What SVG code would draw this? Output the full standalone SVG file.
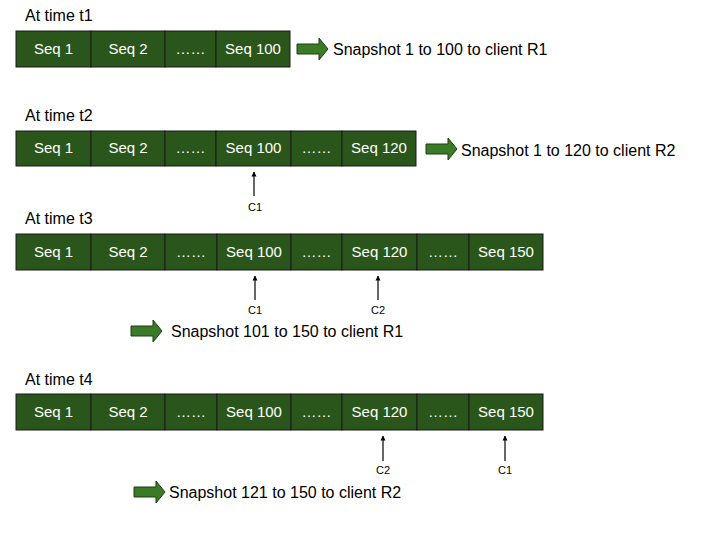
<svg xmlns="http://www.w3.org/2000/svg" width="720" height="540" viewBox="0 0 720 540">
<defs>
<style>
.cell{fill:#2b561b;stroke:#1a1a1a;stroke-width:1}
.ct{fill:#fff;font-family:"Liberation Sans",Arial,sans-serif;font-size:15px;text-anchor:middle}
.lbl{fill:#000;font-family:"Liberation Sans",Arial,sans-serif;font-size:16px}
.snap{fill:#000;font-family:"Liberation Sans",Arial,sans-serif;font-size:16px}
.ptr{fill:#000;font-family:"Liberation Sans",Arial,sans-serif;font-size:11px;text-anchor:middle}
.big{fill:#3b7a27;stroke:#1e3d12;stroke-width:1}
.pl{stroke:#000;stroke-width:1.2;fill:none}
</style>
<marker id="ah" viewBox="0 0 10 10" refX="9" refY="5" markerWidth="5" markerHeight="6" orient="auto" markerUnits="userSpaceOnUse">
<path d="M0,0 L10,5 L0,10 z" fill="#000"/>
</marker>
<polygon id="bigarrow" points="0,4 22,4 22,-2 31,9 22,20 22,14 0,14"/>
</defs>
<rect width="720" height="540" fill="#fff"/>

<text class="lbl" x="25" y="21">At time t1</text>
<text class="lbl" x="25" y="121">At time t2</text>
<text class="lbl" x="25" y="224">At time t3</text>
<text class="lbl" x="25" y="385">At time t4</text>

<g id="row1">
<rect class="cell" x="16" y="31" width="75" height="36"/>
<rect class="cell" x="91" y="31" width="74" height="36"/>
<rect class="cell" x="165" y="31" width="51" height="36"/>
<rect class="cell" x="216" y="31" width="74" height="36"/>
<text class="ct" x="53.5" y="54">Seq 1</text>
<text class="ct" x="128" y="54">Seq 2</text>
<text class="ct" x="190.5" y="54">……</text>
<text class="ct" x="253" y="54">Seq 100</text>
</g>

<g id="row2">
<rect class="cell" x="16" y="131" width="75" height="35"/>
<rect class="cell" x="91" y="131" width="74" height="35"/>
<rect class="cell" x="165" y="131" width="51" height="35"/>
<rect class="cell" x="216" y="131" width="75" height="35"/>
<rect class="cell" x="291" y="131" width="51" height="35"/>
<rect class="cell" x="342" y="131" width="74" height="35"/>
<text class="ct" x="53.5" y="153">Seq 1</text>
<text class="ct" x="128" y="153">Seq 2</text>
<text class="ct" x="190.5" y="153">……</text>
<text class="ct" x="253.5" y="153">Seq 100</text>
<text class="ct" x="316.5" y="153">……</text>
<text class="ct" x="379" y="153">Seq 120</text>
</g>

<g id="row3">
<rect class="cell" x="16" y="234" width="75" height="36"/>
<rect class="cell" x="91" y="234" width="74" height="36"/>
<rect class="cell" x="165" y="234" width="52" height="36"/>
<rect class="cell" x="217" y="234" width="74" height="36"/>
<rect class="cell" x="291" y="234" width="51" height="36"/>
<rect class="cell" x="342" y="234" width="75" height="36"/>
<rect class="cell" x="417" y="234" width="52" height="36"/>
<rect class="cell" x="469" y="234" width="74" height="36"/>
<text class="ct" x="53.5" y="257">Seq 1</text>
<text class="ct" x="128" y="257">Seq 2</text>
<text class="ct" x="191" y="257">……</text>
<text class="ct" x="254" y="257">Seq 100</text>
<text class="ct" x="316.5" y="257">……</text>
<text class="ct" x="379.5" y="257">Seq 120</text>
<text class="ct" x="443" y="257">……</text>
<text class="ct" x="506" y="257">Seq 150</text>
</g>

<g id="row4">
<rect class="cell" x="16" y="394" width="75" height="36"/>
<rect class="cell" x="91" y="394" width="74" height="36"/>
<rect class="cell" x="165" y="394" width="52" height="36"/>
<rect class="cell" x="217" y="394" width="74" height="36"/>
<rect class="cell" x="291" y="394" width="51" height="36"/>
<rect class="cell" x="342" y="394" width="75" height="36"/>
<rect class="cell" x="417" y="394" width="52" height="36"/>
<rect class="cell" x="469" y="394" width="74" height="36"/>
<text class="ct" x="53.5" y="417">Seq 1</text>
<text class="ct" x="128" y="417">Seq 2</text>
<text class="ct" x="191" y="417">……</text>
<text class="ct" x="254" y="417">Seq 100</text>
<text class="ct" x="316.5" y="417">……</text>
<text class="ct" x="379.5" y="417">Seq 120</text>
<text class="ct" x="443" y="417">……</text>
<text class="ct" x="506" y="417">Seq 150</text>
</g>

<g id="snapshots">
<use href="#bigarrow" class="big" x="297" y="40"/>
<text class="snap" x="333" y="55">Snapshot 1 to 100 to client R1</text>
<use href="#bigarrow" class="big" x="426" y="140"/>
<text class="snap" x="461" y="156">Snapshot 1 to 120 to client R2</text>
<use href="#bigarrow" class="big" x="131" y="322"/>
<text class="snap" x="171" y="337">Snapshot 101 to 150 to client R1</text>
<use href="#bigarrow" class="big" x="134" y="483"/>
<text class="snap" x="169" y="498">Snapshot 121 to 150 to client R2</text>
</g>

<g id="connectors">
<line class="pl" x1="254" y1="196" x2="254" y2="172" marker-end="url(#ah)"/>
<line class="pl" x1="255" y1="300" x2="255" y2="276" marker-end="url(#ah)"/>
<line class="pl" x1="378" y1="300" x2="378" y2="276" marker-end="url(#ah)"/>
<line class="pl" x1="383" y1="461" x2="383" y2="436" marker-end="url(#ah)"/>
<line class="pl" x1="505" y1="461" x2="505" y2="436" marker-end="url(#ah)"/>
</g>

<g id="pointer-labels">
<text class="ptr" x="255" y="211">C1</text>
<text class="ptr" x="255" y="314">C1</text>
<text class="ptr" x="378" y="314">C2</text>
<text class="ptr" x="383" y="474">C2</text>
<text class="ptr" x="505" y="474">C1</text>
</g>
</svg>
